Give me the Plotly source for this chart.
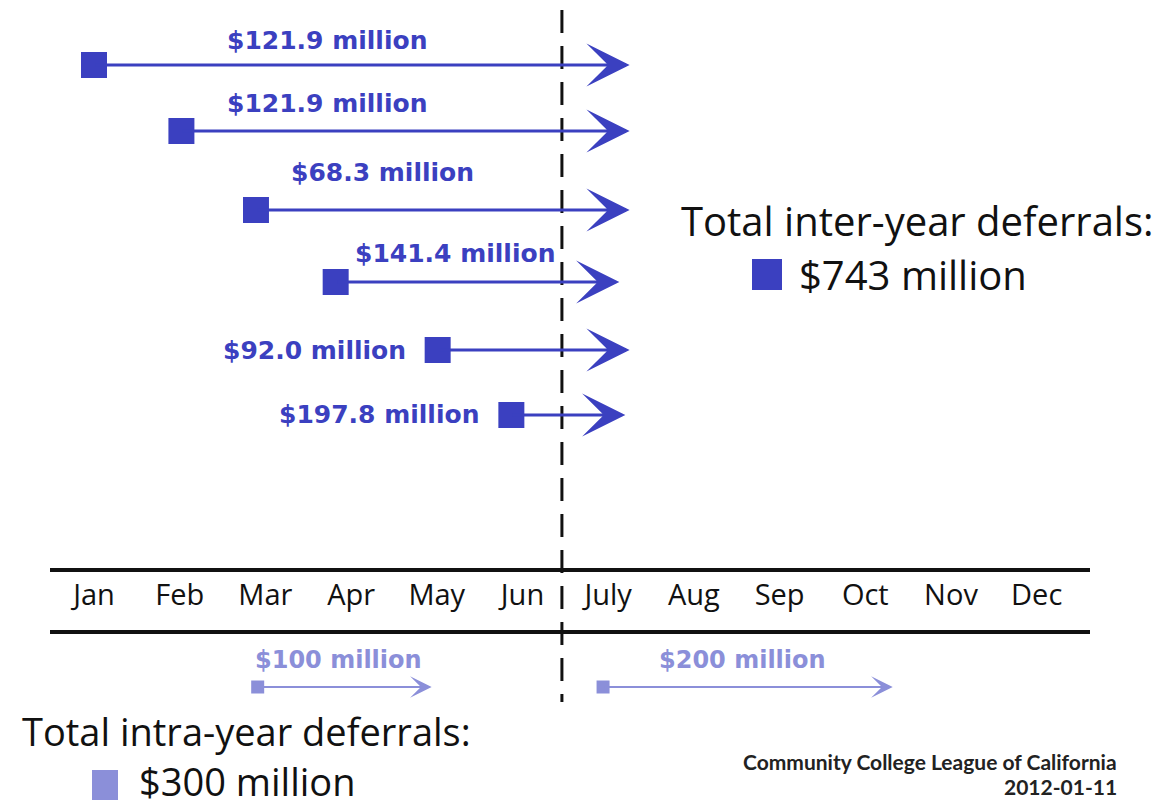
import plotly.graph_objects as go

# ---------------- data ----------------
months = ["Jan", "Feb", "Mar", "Apr", "May", "Jun",
          "July", "Aug", "Sep", "Oct", "Nov", "Dec"]

# inter-year deferrals (start month position, arrow tip position in month units)
inter_amounts = [121.9, 121.9, 68.3, 141.4, 92.0, 197.8]
inter_start = [0.0, 1.02, 1.89, 2.82, 4.01, 4.87]
inter_end = [6.25, 6.25, 6.25, 6.13, 6.25, 6.2]
inter_total = 743

# intra-year deferrals
intra_amounts = [100, 200]
intra_start = [1.91, 5.94]
intra_end = [3.94, 9.32]
intra_total = 300

fiscal_split = 5.46  # dashed line between Jun and July

source = "Community College League of California"
date = "2012-01-11"

# ---------------- layout / style ----------------
DARK = "#3b40c0"
LIGHT = "#8b8fd9"
W, H = 1176, 807
PX0, PXM = 94.0, 85.7           # pixel of Jan, pixels per month
xr = [-PX0 / PXM, (W - PX0) / PXM]

row_y = [65, 131, 210, 282, 350, 415]
label_pos = [("c", 2.72, 40), ("c", 2.72, 103), ("c", 3.37, 172),
             ("c", 4.21, 253), ("l", None, 350), ("l", None, 414)]
intra_y = 687
intra_label = [(2.85, 660), (7.57, 660)]
month_y = 598

LABEL_FONT = dict(family="DejaVu Sans", size=25, color=DARK, weight="bold")
BIG_FONT = dict(family="Open Sans", size=40, color="#111")
BIG_FONT2 = dict(family="Open Sans", size=38, color="#111")

fig = go.Figure()

# month labels
fig.add_trace(go.Scatter(
    x=list(range(len(months))), y=[month_y] * len(months), mode="text",
    text=months, textfont=dict(family="Open Sans", size=29, color="#111"),
    hoverinfo="skip", showlegend=False))

# inter-year start squares
fig.add_trace(go.Scatter(
    x=inter_start, y=row_y, mode="markers",
    marker=dict(symbol="square", size=26, color=DARK),
    hoverinfo="skip", showlegend=False))

# intra-year start squares
fig.add_trace(go.Scatter(
    x=intra_start, y=[intra_y] * len(intra_start), mode="markers",
    marker=dict(symbol="square", size=13, color=LIGHT),
    hoverinfo="skip", showlegend=False))

annotations = []
for amt, xs, xe, y, lp in zip(inter_amounts, inter_start, inter_end, row_y, label_pos):
    annotations.append(dict(
        x=xe, y=y, ax=xs, ay=y, xref="x", yref="y", axref="x", ayref="y",
        text="", showarrow=True, arrowhead=3, arrowsize=2.4, arrowwidth=3,
        arrowcolor=DARK, standoff=0))
    kind, lx, ly = lp
    txt = f"${amt:.1f} million"
    if kind == "c":
        annotations.append(dict(x=lx, y=ly, xref="x", yref="y", text=txt,
                                showarrow=False, xanchor="center", yanchor="middle",
                                font=LABEL_FONT))
    else:
        annotations.append(dict(x=xs, y=ly, xref="x", yref="y", text=txt,
                                showarrow=False, xanchor="right", yanchor="middle", xshift=-30,
                                font=LABEL_FONT))

for amt, xs, xe, (lx, ly) in zip(intra_amounts, intra_start, intra_end, intra_label):
    annotations.append(dict(
        x=xe, y=intra_y, ax=xs, ay=intra_y, xref="x", yref="y", axref="x", ayref="y",
        text="", showarrow=True, arrowhead=3, arrowsize=1.8, arrowwidth=2,
        arrowcolor=LIGHT, standoff=0))
    annotations.append(dict(x=lx, y=ly, xref="x", yref="y", text=f"${amt} million",
                            showarrow=False, xanchor="center", yanchor="middle",
                            font=dict(family="DejaVu Sans", size=24, color=LIGHT, weight="bold")))

# totals and credit (positions in page pixels)
annotations += [
    dict(x=917, y=220, text="Total inter-year deferrals:", xanchor="center", font=BIG_FONT),
    dict(x=797, y=274, text=f"${inter_total} million", xanchor="left", font=BIG_FONT),
    dict(x=20, y=731, text="Total intra-year deferrals:", xanchor="left", font=BIG_FONT2),
    dict(x=137, y=781, text=f"${intra_total} million", xanchor="left", font=BIG_FONT2),
    dict(x=1119, y=761, text=source, xanchor="right",
         font=dict(family="Lato", size=21, color="#222", weight="bold")),
    dict(x=1119, y=786, text=date, xanchor="right",
         font=dict(family="Lato", size=21, color="#222", weight="bold")),
]
for a in annotations[-6:]:
    a.update(xref="paper", yref="y", showarrow=False, yanchor="middle")
    a["x"] = a["x"] / W

shapes = [
    dict(type="line", xref="paper", yref="y", x0=50 / W, x1=1090 / W, y0=570, y1=570,
         line=dict(color="#111", width=4)),
    dict(type="line", xref="paper", yref="y", x0=50 / W, x1=1090 / W, y0=632, y1=632,
         line=dict(color="#111", width=4)),
    dict(type="line", xref="x", yref="y", x0=fiscal_split, x1=fiscal_split, y0=10, y1=702,
         line=dict(color="#111", width=3, dash="23px,13px")),
    # legend squares
    dict(type="rect", xref="paper", yref="y", x0=752 / W, x1=782 / W, y0=259, y1=290,
         fillcolor=DARK, line=dict(width=0)),
    dict(type="rect", xref="paper", yref="y", x0=92 / W, x1=118 / W, y0=770, y1=800,
         fillcolor=LIGHT, line=dict(width=0)),
]

fig.update_layout(
    width=W, height=H, margin=dict(l=0, r=0, t=0, b=0),
    paper_bgcolor="white", plot_bgcolor="white",
    xaxis=dict(range=xr, visible=False, fixedrange=True),
    yaxis=dict(range=[H, 0], visible=False, fixedrange=True),
    annotations=annotations, shapes=shapes, showlegend=False,
)

fig.write_html("out.html", config={"displayModeBar": False},
               post_script="document.body.style.margin='0px';")
